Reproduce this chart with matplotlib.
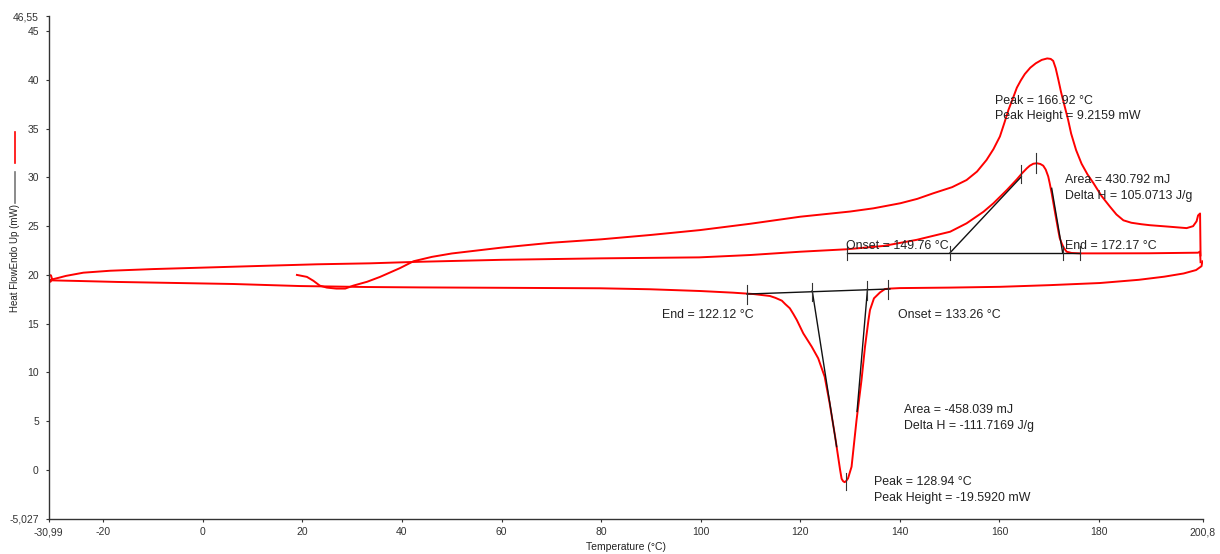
import numpy as np
import matplotlib.pyplot as plt
from matplotlib.lines import Line2D

plt.rcParams['font.family'] = ['Liberation Sans', 'DejaVu Sans']

# first heating (starts at room temperature)
heat1_T = [18.9, 20.9, 22.2, 23.5, 24.9, 26.8, 28.6, 30.2, 33.0, 35.6, 39.6, 42.3, 46, 50, 55, 60, 70, 80, 90,
           99.9, 110, 120, 130, 134.7, 140.1, 143.5, 146.7, 150.5, 153.4, 155.5, 157.4, 158.8, 160.1,
           161.0, 161.8, 162.7, 163.5, 164.3, 165.1, 166.2, 167.3, 168.5, 169.6, 170.3, 170.8, 171.3,
           171.8, 172.4, 173.1, 173.8, 174.4, 175.4, 176.5, 177.7, 178.9, 180.5, 182.2, 183.5, 184.9,
           186.5, 188.5, 190.2, 194.0, 197.6, 198.9, 199.6, 199.9, 200.3, 200.4]
heat1_H = [20.0, 19.8, 19.4, 18.9, 18.7, 18.6, 18.6, 18.9, 19.3, 19.8, 20.7, 21.4, 21.85, 22.2, 22.5, 22.8,
           23.3, 23.65, 24.1, 24.6, 25.25, 25.97, 26.5, 26.83, 27.35, 27.8, 28.37, 29.0, 29.73, 30.6,
           31.78, 32.9, 34.2, 35.6, 36.9, 38.1, 39.2, 39.95, 40.6, 41.25, 41.7, 42.05, 42.2, 42.15, 41.95,
           41.2, 40.1, 38.7, 37.3, 35.9, 34.5, 32.8, 31.4, 30.3, 29.4, 28.1, 27.0, 26.2, 25.6, 25.35,
           25.2, 25.1, 24.95, 24.8, 25.0, 25.5, 26.1, 26.3, 22.0]

# second heating (starts at -31 C)
heat2_T = [-30.95, -30.85, -30.5, -30.3, -30.6, -30.9, -30.2, -29.0, -27.5, -24.0, -18.6, -10, -0.6, 10,
           22.9, 33.6, 43.6, 60, 80, 99.7, 109.9, 120.0, 129.3, 136.7, 143.4, 150.1, 153.4, 156.8, 158.8,
           161.5, 163.5, 164.5, 165.5, 166.1, 166.8, 167.5, 168.2, 168.8, 169.3, 169.8, 170.1, 170.5,
           171.2, 171.8, 172.1, 172.5, 172.9, 173.5, 174.5, 176.2, 180.2, 190, 199.9, 200.3, 200.4]
heat2_H = [19.5, 20.0, 19.95, 19.6, 19.3, 19.35, 19.55, 19.7, 19.9, 20.23, 20.43, 20.6, 20.74, 20.9,
           21.09, 21.19, 21.35, 21.55, 21.7, 21.8, 22.04, 22.38, 22.63, 22.97, 23.6, 24.43, 25.29, 26.48,
           27.35, 28.71, 29.8, 30.4, 30.93, 31.2, 31.4, 31.45, 31.38, 31.2, 30.8, 30.1, 29.4, 28.37,
           26.32, 24.61, 23.8, 23.24, 22.8, 22.38, 22.25, 22.21, 22.21, 22.22, 22.28, 22.4, 21.3]

# cooling
cool_T = [200.75, 200.6, 199.5, 197, 193.1, 188, 180.2, 170, 160.1, 150, 140, 138.0, 137.0, 136.0, 134.8,
          134.0, 133.7, 133.0, 132.3, 131.3, 130.3, 129.6, 129.2, 128.9, 128.6, 128.3, 128.0, 127.0,
          125.9, 124.9, 123.6, 122.3, 120.6, 119.3, 118.6, 117.9, 117.0, 116.3, 115.0, 113.9, 110.6,
          106.5, 99.9, 89.8, 79.8, 60, 43.6, 33.0, 19.5, 6.1, -17.2, -25, -30.95]
cool_H = [21.4, 20.9, 20.5, 20.15, 19.82, 19.5, 19.17, 18.95, 18.78, 18.7, 18.65, 18.6, 18.55, 18.2, 17.6,
          16.4, 15.38, 12.64, 9.23, 5.12, 0.33, -0.85, -1.15, -1.25, -1.15, -0.9, 0.0, 3.41, 6.84, 9.56,
          11.45, 12.64, 14.01, 15.38, 16.0, 16.58, 17.0, 17.36, 17.65, 17.84, 18.04, 18.18, 18.35, 18.53,
          18.63, 18.68, 18.72, 18.76, 18.86, 19.07, 19.28, 19.38, 19.45]

# peak analysis (second heating)
h2_base_T = [129.3, 176.2]
h2_base_H = [22.28, 22.28]
h2_onset_T = [150.1, 164.4]
h2_onset_H = [22.28, 30.07]
h2_end_T = [170.5, 172.7]
h2_end_H = [28.88, 22.28]
h2_tick_T = [129.3, 150.1, 172.7, 176.2]
h2_peak_tick_T = [164.4, 167.3]
h2_peak_tick_H = [(29.43, 31.27), (30.45, 32.5)]

# peak analysis (cooling)
c_base_T = [109.3, 138.0]
c_base_H = [18.04, 18.56]
c_end_T = [122.4, 127.3]
c_end_H = [18.38, 2.39]
c_onset_T = [133.5, 131.4]
c_onset_H = [18.53, 6.0]
c_tick_T = [109.3, 122.4, 133.5, 137.6]
c_peak_tick_T = 129.1
c_peak_tick_H = (-2.05, -0.31)

xticks = [-30.99, -20, 0, 20, 40, 60, 80, 100, 120, 140, 160, 180, 200.8]
xlabels = ['-30,99', '-20', '0', '20', '40', '60', '80', '100', '120', '140', '160', '180', '200,8']
yticks = [-5.027, 0, 5, 10, 15, 20, 25, 30, 35, 40, 45, 46.55]
ylabels = ['-5,027', '0', '5', '10', '15', '20', '25', '30', '35', '40', '45', '46,55']

fig = plt.figure(figsize=(12.2, 5.54), dpi=100)
ax = fig.add_axes([0.0398, 0.0632, 0.9459, 0.9079])

red = '#ff0000'
ax.plot(heat1_T, heat1_H, color=red, lw=1.4, zorder=2)
ax.plot(heat2_T, heat2_H, color=red, lw=1.4, zorder=2)
ax.plot(cool_T, cool_H, color=red, lw=1.4, zorder=2)

blk = '#111111'
ax.plot(h2_base_T, h2_base_H, color=blk, lw=1.0, zorder=3)
ax.plot(h2_onset_T, h2_onset_H, color=blk, lw=1.0, zorder=3)
ax.plot(h2_end_T, h2_end_H, color=blk, lw=1.0, zorder=3)
for t in h2_tick_T:
    ax.plot([t, t], [h2_base_H[0] - 0.8, h2_base_H[0] + 0.65], color='#333333', lw=0.8, zorder=3)
for t, (a, b) in zip(h2_peak_tick_T, h2_peak_tick_H):
    ax.plot([t, t], [a, b], color='#333333', lw=0.8, zorder=3)

ax.plot(c_base_T, c_base_H, color=blk, lw=1.0, zorder=3)
ax.plot(c_end_T, c_end_H, color=blk, lw=1.0, zorder=3)
ax.plot(c_onset_T, c_onset_H, color=blk, lw=1.0, zorder=3)
for t in c_tick_T:
    hb = np.interp(t, c_base_T, c_base_H)
    ax.plot([t, t], [hb - 1.0, hb + 0.9], color='#333333', lw=0.8, zorder=3)
ax.plot([c_peak_tick_T, c_peak_tick_T], c_peak_tick_H, color='#333333', lw=0.8, zorder=3)

fs = 8.9
tc = '#222222'
ax.text(159.1, 37.83, 'Peak = 166.92 °C', fontsize=fs, color=tc, va='center')
ax.text(159.1, 36.3, 'Peak Height = 9.2159 mW', fontsize=fs, color=tc, va='center')
ax.text(173.2, 29.73, 'Area = 430.792 mJ', fontsize=fs, color=tc, va='center')
ax.text(173.2, 28.09, 'Delta H = 105.0713 J/g', fontsize=fs, color=tc, va='center')
ax.text(129.2, 22.97, 'Onset = 149.76 °C', fontsize=fs, color=tc, va='center')
ax.text(173.2, 22.97, 'End = 172.17 °C', fontsize=fs, color=tc, va='center')
ax.text(92.2, 15.89, 'End = 122.12 °C', fontsize=fs, color=tc, va='center')
ax.text(139.6, 15.89, 'Onset = 133.26 °C', fontsize=fs, color=tc, va='center')
ax.text(140.8, 6.15, 'Area = -458.039 mJ', fontsize=fs, color=tc, va='center')
ax.text(140.8, 4.51, 'Delta H = -111.7169 J/g', fontsize=fs, color=tc, va='center')
ax.text(134.8, -1.23, 'Peak = 128.94 °C', fontsize=fs, color=tc, va='center')
ax.text(134.8, -2.87, 'Peak Height = -19.5920 mW', fontsize=fs, color=tc, va='center')

ax.set_xlim(-30.99, 200.8)
ax.set_ylim(-5.027, 46.55)
ax.set_xticks(xticks)
ax.set_xticklabels(xlabels)
ax.set_yticks(yticks)
ax.set_yticklabels(ylabels)
ax.tick_params(axis='both', direction='out', length=2.5, width=0.8, color='#333333',
               labelsize=7.5, labelcolor='#333333')
ax.tick_params(axis='x', pad=3.5)
ax.tick_params(axis='y', pad=4.5)
for s in ['top', 'right']:
    ax.spines[s].set_visible(False)
for s in ['left', 'bottom']:
    ax.spines[s].set_color('#333333')
    ax.spines[s].set_linewidth(1.0)

fig.text(626 / 1220, 1 - 547 / 554, 'Temperature (°C)', fontsize=7.5, color='#222222',
         ha='center', va='center')
fig.text(15 / 1220, 1 - 258 / 554, 'Heat FlowEndo Up (mW)', fontsize=7, color='#222222',
         ha='center', va='center', rotation=90)
fig.add_artist(Line2D([15 / 1220, 15 / 1220], [1 - 131.7 / 554, 1 - 163.3 / 554], color=red, lw=1.2))
fig.add_artist(Line2D([15 / 1220, 15 / 1220], [1 - 171.7 / 554, 1 - 203.3 / 554], color='#777777', lw=1.2))

fig.savefig('out.png', dpi=100)
